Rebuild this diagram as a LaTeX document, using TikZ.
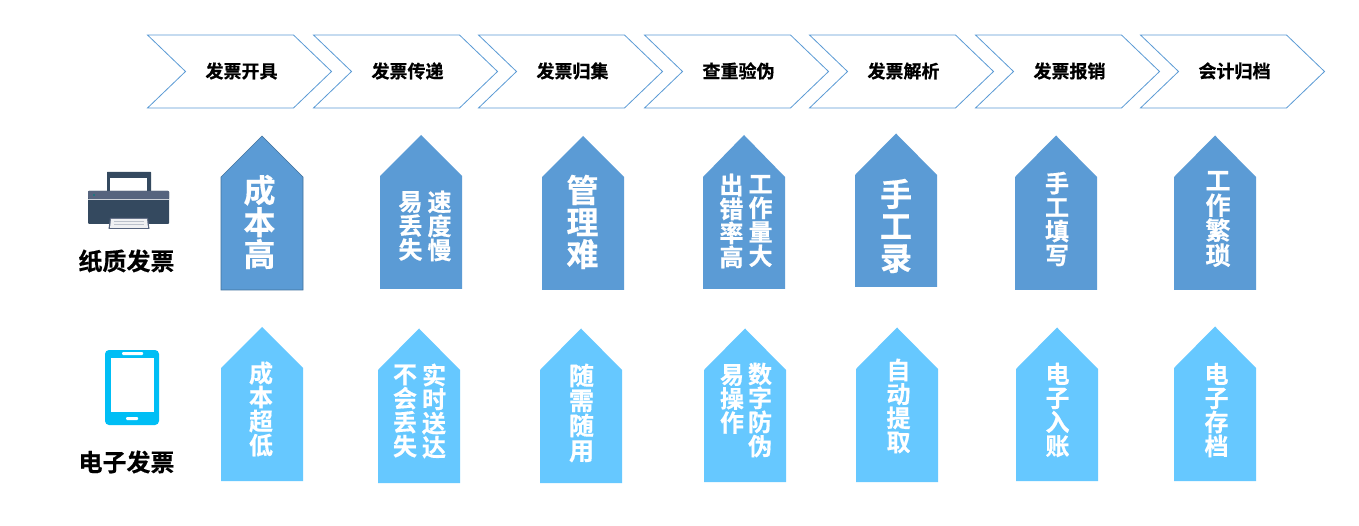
\documentclass[tikz,border=0pt]{standalone}
\usepackage{fontspec}
\setmainfont{Noto Sans CJK SC}[BoldFont={Noto Sans CJK SC Bold},BoldFeatures={FakeBold=0.5}]
\definecolor{stepblue}{HTML}{5B9BD5}
\definecolor{paleblue}{HTML}{66C8FF}
\definecolor{edgeblue}{HTML}{41719C}
\definecolor{phoneblue}{HTML}{00BEF5}
\definecolor{prdark}{HTML}{34495F}
\definecolor{prband}{HTML}{56647E}
\newcommand{\chev}[3]{%
  \draw[stepborder] (#1,35) -- ({#1+146},35) -- ({#1+184},71.5) -- ({#1+146},108) -- (#1,108) -- ({#1+38},71.5) -- cycle;
  \node[steplabel] (#2) at ({#1+94},71) {#3};}
\begin{document}
\begin{tikzpicture}[x=1pt,y=-1pt,
  stepborder/.style={draw=stepblue,line width=0.8pt,fill=white,line join=miter},
  steplabel/.style={font=\bfseries\fontsize{18}{20}\selectfont,text=black,inner sep=0pt},
  rowlabel/.style={font=\bfseries\fontsize{24}{28}\selectfont,text=black,inner sep=0pt},
  darkarrow/.style={fill=stepblue},
  lightarrow/.style={fill=paleblue},
  vtxt/.style={text=white,inner sep=0pt,align=center,font=\bfseries\fontsize{#1}{#1}\selectfont},
  vtxt/.default=24]
\useasboundingbox (0,0) rectangle (1359,526);
\fill[white] (0,0) rectangle (1359,526);
\chev{147.5}{s1}{发票开具}
\chev{313.5}{s2}{发票传递}
\chev{478.5}{s3}{发票归集}
\chev{644.5}{s4}{查重验伪}
\chev{809.5}{s5}{发票解析}
\chev{975.5}{s6}{发票报销}
\chev{1140.5}{s7}{会计归档}
% upper row
\path[darkarrow,draw=edgeblue,line width=0.6pt] (262,136) -- (303,177) -- (303,290) -- (221,290) -- (221,177) -- cycle;
\path[darkarrow] (421,135) -- (462,176) -- (462,289) -- (380,289) -- (380,176) -- cycle;
\path[darkarrow] (583,136) -- (624,177) -- (624,290) -- (542,290) -- (542,177) -- cycle;
\path[darkarrow] (744,135) -- (785,177) -- (785,289) -- (703,289) -- (703,177) -- cycle;
\path[darkarrow] (896,133.5) -- (937,175) -- (937,287) -- (855,287) -- (855,175) -- cycle;
\path[darkarrow] (1056,135.5) -- (1097,177) -- (1097,290) -- (1015,290) -- (1015,177) -- cycle;
\path[darkarrow] (1215,135.5) -- (1256,177) -- (1256,290) -- (1174,290) -- (1174,177) -- cycle;
% lower row
\path[lightarrow] (262,327) -- (303,368) -- (303,481) -- (221,481) -- (221,368) -- cycle;
\path[lightarrow] (419,328.5) -- (460,370) -- (460,483) -- (378,483) -- (378,370) -- cycle;
\path[lightarrow] (581,328.5) -- (622,370) -- (622,483) -- (540,483) -- (540,370) -- cycle;
\path[lightarrow] (745,328.5) -- (786,370) -- (786,482) -- (704,482) -- (704,370) -- cycle;
\path[lightarrow] (897,327.5) -- (938,369) -- (938,482) -- (856,482) -- (856,369) -- cycle;
\path[lightarrow] (1057,327.5) -- (1098,369) -- (1098,481) -- (1016,481) -- (1016,369) -- cycle;
\path[lightarrow] (1215,326.5) -- (1256,368) -- (1256,481) -- (1174,481) -- (1174,368) -- cycle;
% upper texts
\node[vtxt=32] (a1) at (259.5,222) {成\\本\\高};
\node[vtxt=24] (a2r) at (439.5,226) {速\\度\\慢};
\node[vtxt=24] (a2l) at (410.5,226) {易\\丢\\失};
\node[vtxt=32] (a3) at (582.5,222) {管\\理\\难};
\node[vtxt=24] (a4r) at (760.5,221) {工\\作\\量\\大};
\node[vtxt=24] (a4l) at (731.5,221) {出\\错\\率\\高};
\node[vtxt=32] (a5) at (896,226) {手\\工\\录};
\node[vtxt=24] (a6) at (1057,219) {手\\工\\填\\写};
\node[vtxt=25] (a7) at (1218,219) {工\\作\\繁\\琐};
% lower texts
\node[vtxt=24] (b1) at (261,409) {成\\本\\超\\低};
\node[vtxt=24] (b2r) at (434,411) {实\\时\\送\\达};
\node[vtxt=24] (b2l) at (405,411) {不\\会\\丢\\失};
\node[vtxt=25] (b3) at (581.5,413) {随\\需\\随\\用};
\node[vtxt=24] (b4r) at (760,410) {数\\字\\防\\伪};
\node[vtxt=24] (b4l) at (732,399) {易\\操\\作};
\node[vtxt=24] (b5) at (898.5,406) {自\\动\\提\\取};
\node[vtxt=24] (b6) at (1057.5,410) {电\\子\\入\\账};
\node[vtxt=24] (b7) at (1216.5,410) {电\\子\\存\\档};
% row labels
\node[rowlabel] (paper) at (126.5,261) {纸质发票};
\node[rowlabel] (elec) at (126.5,462) {电子发票};
% printer
\fill[prdark,rounded corners=0.5pt] (107,172) rectangle (151,192);
\fill[white] (110,178) rectangle (147,192);
\fill[prdark,rounded corners=1pt] (88,191) rectangle (169,224);
\fill[prband,rounded corners=1pt] (88,191) rectangle (169,199);
\fill[white!70!prband] (88,199.5) rectangle (169,200.5);
\fill[teal!60!prband] (93,194) rectangle (95,196);
\fill[prband] (110,218) -- (148,218) -- (149.5,229) -- (108.5,229) -- cycle;
\fill[white!92!prdark] (111,219) -- (147,219) -- (148,228) -- (110,228) -- cycle;
\fill[prband!40] (114,221) rectangle (144,222.5);
\fill[prband!40] (114,224) rectangle (144,225.5);
% phone
\fill[phoneblue,rounded corners=4pt] (105,350) rectangle (159,425);
\fill[white] (111,358) rectangle (154,412);
\fill[white,rounded corners=1pt] (122,352) rectangle (143,355);
\fill[white,rounded corners=1pt] (126,417) rectangle (138,420);
\end{tikzpicture}
\end{document}
